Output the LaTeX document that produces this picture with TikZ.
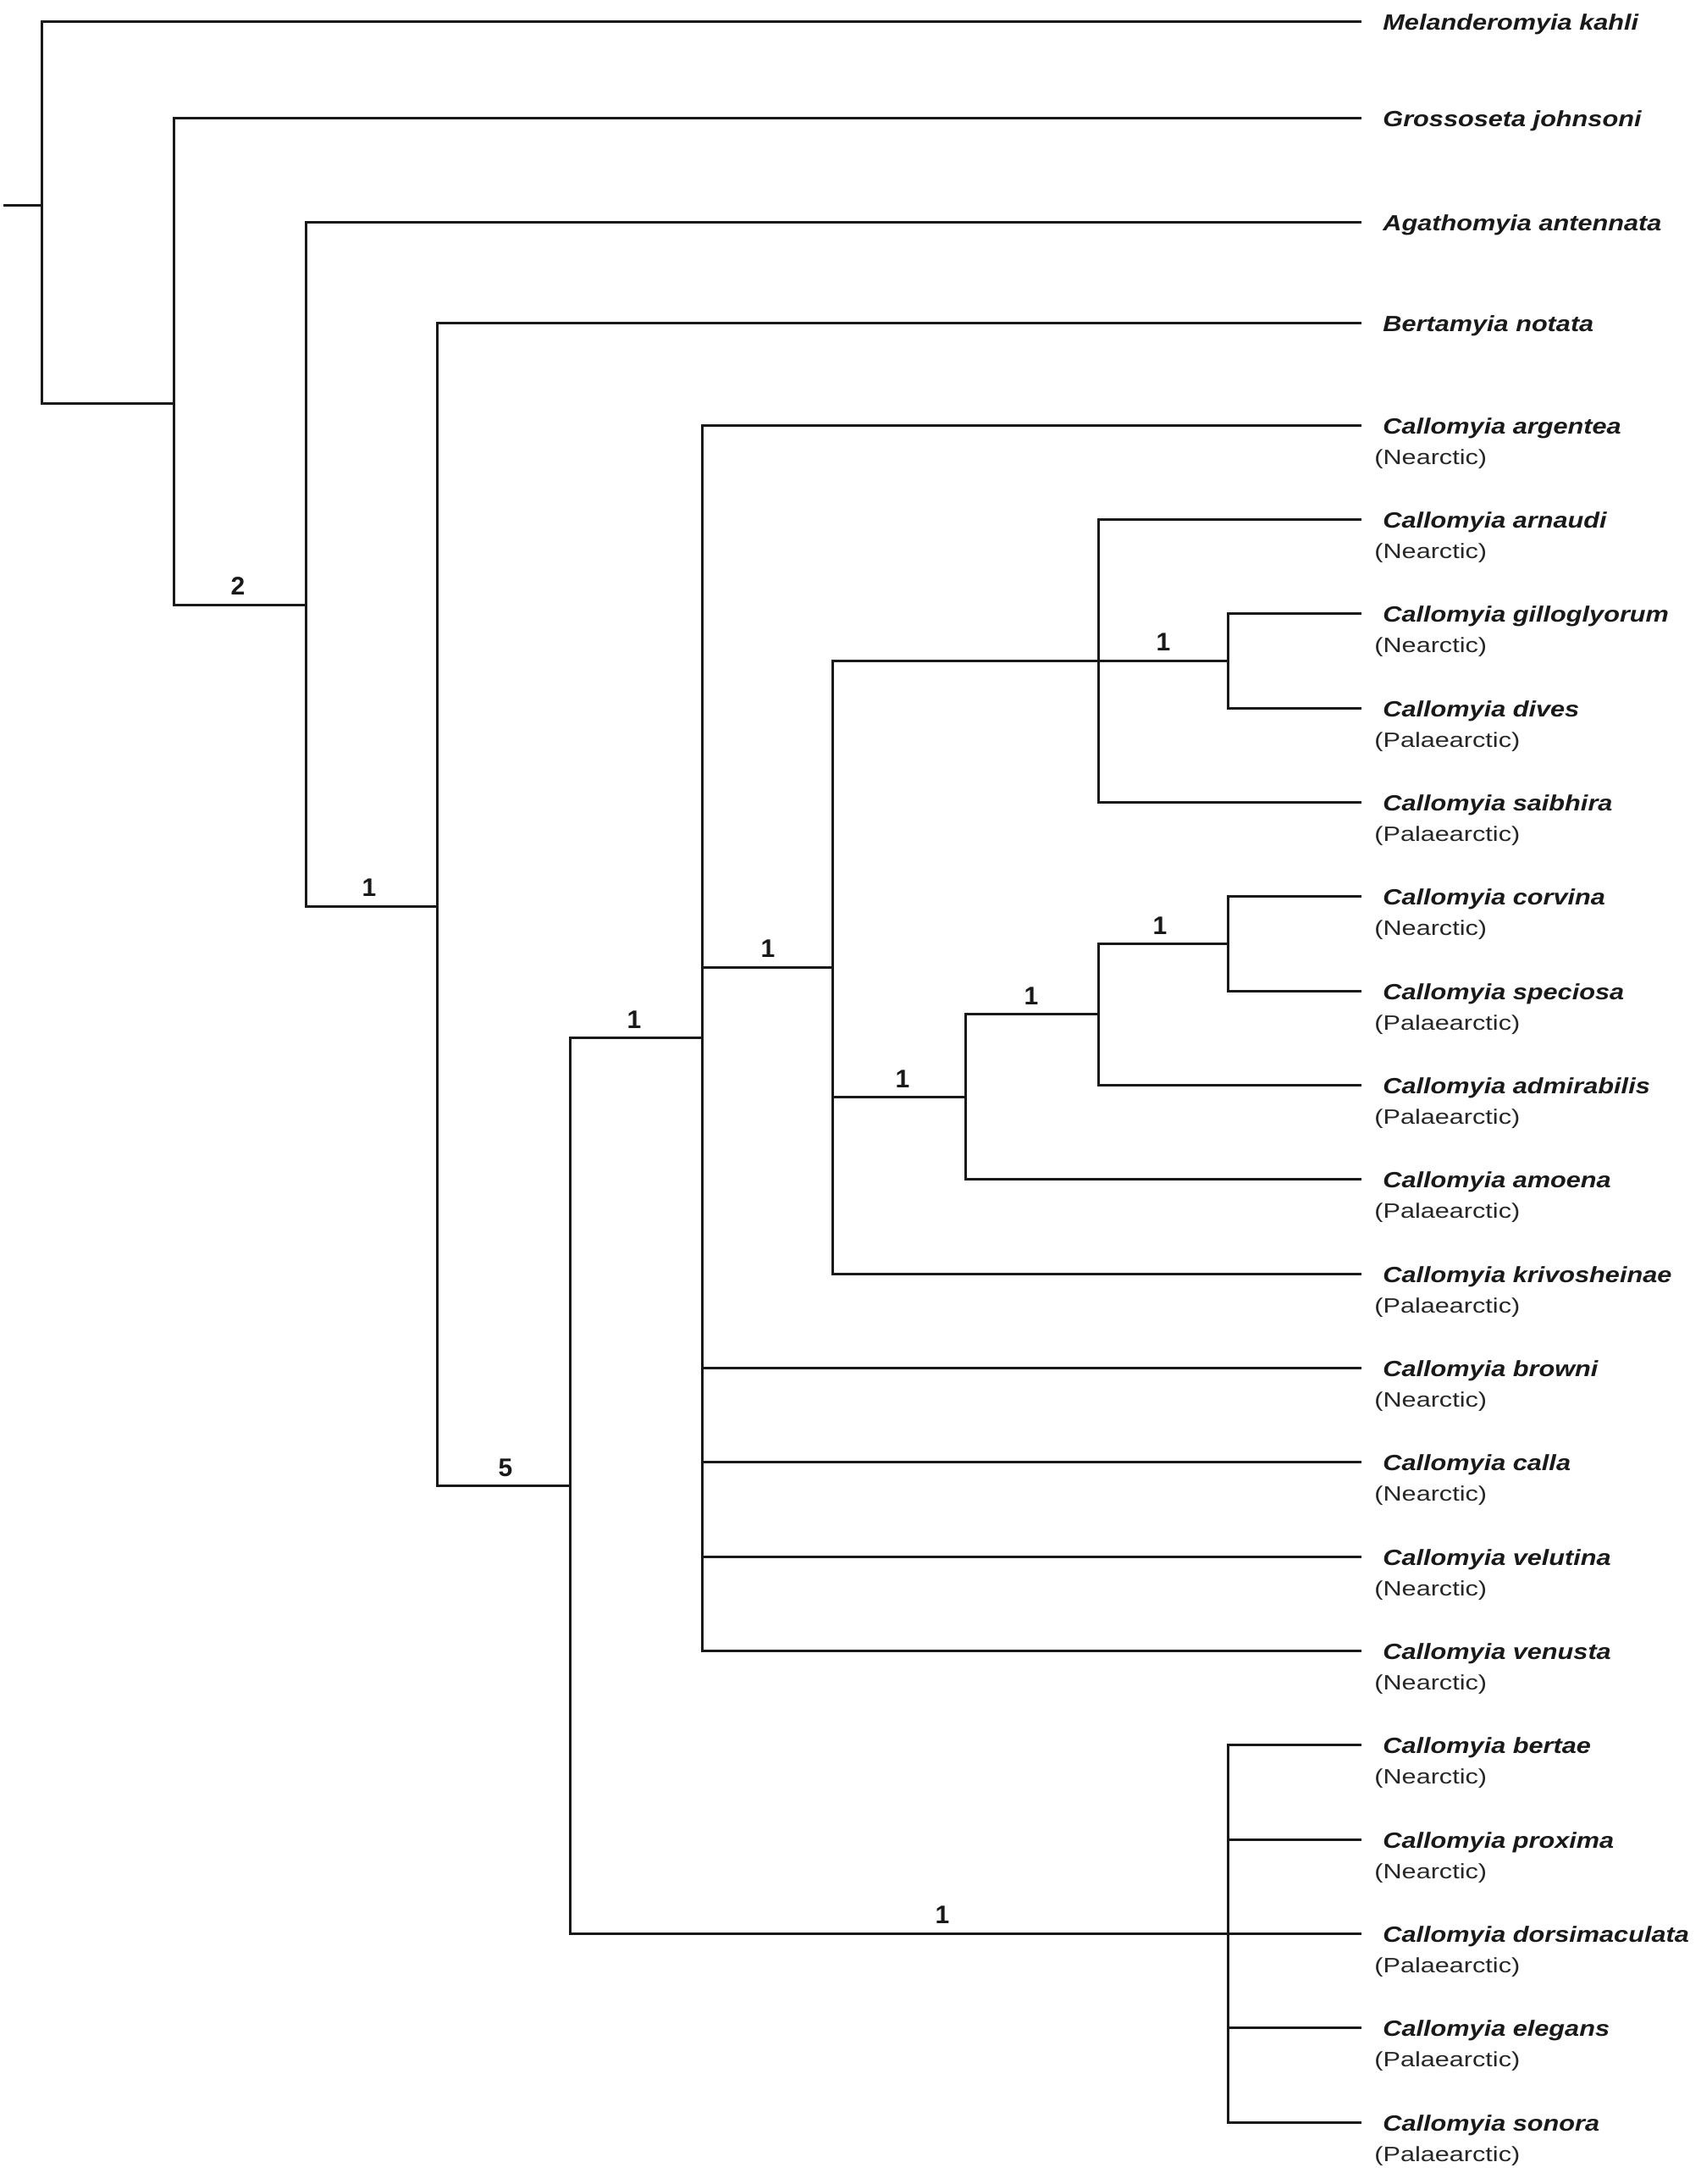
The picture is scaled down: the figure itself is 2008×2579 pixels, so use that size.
\documentclass[tikz,border=0pt]{standalone}
\usepackage{fontspec}
\setmainfont{Liberation Sans}
\newfontfamily\spfont[FakeStretch=1.18]{Liberation Sans}
\newfontfamily\regfont[FakeStretch=1.25]{Liberation Sans}
\begin{document}
\begin{tikzpicture}[x=0.5pt,y=-0.5pt,
  br/.style={line width=1.5pt, line join=miter, line cap=butt, black!90},
  sp/.style={anchor=base west, inner sep=0pt, text=black!90, font=\spfont\fontsize{13}{15}\selectfont\bfseries\itshape},
  rg/.style={anchor=base west, inner sep=0pt, text=black!85, font=\regfont\fontsize{12.25}{14}\selectfont},
  bsv/.style={anchor=base, inner sep=0pt, text=black!90, font=\fontsize{15}{18}\selectfont\bfseries}]
\useasboundingbox (0,0) rectangle (2008,2579);

% ---------- internal nodes ----------
\coordinate (s0) at (4,242.5);
\coordinate (r)  at (49,242.5);
\coordinate (n2) at (205,476);
\coordinate (n3) at (361,714);
\coordinate (n4) at (516,1070);
\coordinate (n5) at (673,1754.5);
\coordinate (n6) at (829,1225.7);
\coordinate (n7) at (983,1142);
\coordinate (nA) at (1297,780.3);
\coordinate (nB) at (1450,780.3);
\coordinate (nC) at (1140,1295.3);
\coordinate (nD) at (1297,1197.8);
\coordinate (nE) at (1450,1114.3);
\coordinate (nF) at (1450,2283.3);

% ---------- tip ends ----------
\coordinate (eMel) at (1608,26);
\coordinate (eGro) at (1608,140);
\coordinate (eAga) at (1608,262.5);
\coordinate (eBer) at (1608,381);
\coordinate (e0)  at (1608,502);
\coordinate (e1)  at (1608,613.3);
\coordinate (e2)  at (1608,724.7);
\coordinate (e3)  at (1608,836);
\coordinate (e4)  at (1608,947.3);
\coordinate (e5)  at (1608,1058.7);
\coordinate (e6)  at (1608,1170);
\coordinate (e7)  at (1608,1281.3);
\coordinate (e8)  at (1608,1392.7);
\coordinate (e9)  at (1608,1504);
\coordinate (e10) at (1608,1615.3);
\coordinate (e11) at (1608,1726.7);
\coordinate (e12) at (1608,1838);
\coordinate (e13) at (1608,1949.3);
\coordinate (e14) at (1608,2060.7);
\coordinate (e15) at (1608,2172);
\coordinate (e16) at (1608,2283.3);
\coordinate (e17) at (1608,2394.7);
\coordinate (e18) at (1608,2506);

% ---------- branches ----------
\draw[br] (s0) -- (r);
\draw[br] (r) |- (eMel);
\draw[br] (r) |- (n2);
\draw[br] (n2) |- (eGro);
\draw[br] (n2) |- (n3);
\draw[br] (n3) |- (eAga);
\draw[br] (n3) |- (n4);
\draw[br] (n4) |- (eBer);
\draw[br] (n4) |- (n5);
\draw[br] (n5) |- (n6);
\draw[br] (n5) |- (nF);
\draw[br] (n6) |- (e0);
\draw[br] (n6) |- (n7);
\draw[br] (n6) |- (e10);
\draw[br] (n6) |- (e11);
\draw[br] (n6) |- (e12);
\draw[br] (n6) |- (e13);
\draw[br] (n7) |- (nA);
\draw[br] (n7) |- (nC);
\draw[br] (n7) |- (e9);
\draw[br] (nA) |- (e1);
\draw[br] (nA) -- (nB);
\draw[br] (nA) |- (e4);
\draw[br] (nB) |- (e2);
\draw[br] (nB) |- (e3);
\draw[br] (nC) |- (nD);
\draw[br] (nC) |- (e8);
\draw[br] (nD) |- (nE);
\draw[br] (nD) |- (e7);
\draw[br] (nE) |- (e5);
\draw[br] (nE) |- (e6);
\draw[br] (nF) |- (e14);
\draw[br] (nF) |- (e15);
\draw[br] (nF) -- (e16);
\draw[br] (nF) |- (e17);
\draw[br] (nF) |- (e18);

% ---------- support values ----------
\node[bsv] (l1)  at (281,702.5)  {2};
\node[bsv] (l2)  at (436,1058.5) {1};
\node[bsv] (l3)  at (597,1743)   {5};
\node[bsv] (l4)  at (749,1214)   {1};
\node[bsv] (l5)  at (907,1130.5) {1};
\node[bsv] (l6)  at (1066,1284)  {1};
\node[bsv] (l7)  at (1218,1186)  {1};
\node[bsv] (l8)  at (1370,1103)  {1};
\node[bsv] (l9)  at (1374,768.5) {1};
\node[bsv] (l10) at (1113,2271)  {1};

% ---------- tip labels ----------
\node[sp] (tMel) at (1633,36)  {Melanderomyia kahli};
\node[sp] (tGro) at (1633,150) {Grossoseta johnsoni};
\node[sp] (tAga) at (1633,272.5) {Agathomyia antennata};
\node[sp] (tBer) at (1633,391) {Bertamyia notata};

\node[sp] (t0)  at (1633,512)    {Callomyia argentea};
\node[rg] (r0)  at (1623,548)    {(Nearctic)};
\node[sp] (t1)  at (1633,623.3)  {Callomyia arnaudi};
\node[rg] (r1)  at (1623,659.3)  {(Nearctic)};
\node[sp] (t2)  at (1633,734.7)  {Callomyia gilloglyorum};
\node[rg] (r2)  at (1623,770.7)  {(Nearctic)};
\node[sp] (t3)  at (1633,846)    {Callomyia dives};
\node[rg] (r3)  at (1623,882)    {(Palaearctic)};
\node[sp] (t4)  at (1633,957.3)  {Callomyia saibhira};
\node[rg] (r4)  at (1623,993.3)  {(Palaearctic)};
\node[sp] (t5)  at (1633,1068.7) {Callomyia corvina};
\node[rg] (r5)  at (1623,1104.7) {(Nearctic)};
\node[sp] (t6)  at (1633,1180)   {Callomyia speciosa};
\node[rg] (r6)  at (1623,1216)   {(Palaearctic)};
\node[sp] (t7)  at (1633,1291.3) {Callomyia admirabilis};
\node[rg] (r7)  at (1623,1327.3) {(Palaearctic)};
\node[sp] (t8)  at (1633,1402.7) {Callomyia amoena};
\node[rg] (r8)  at (1623,1438.7) {(Palaearctic)};
\node[sp] (t9)  at (1633,1514)   {Callomyia krivosheinae};
\node[rg] (r9)  at (1623,1550)   {(Palaearctic)};
\node[sp] (t10) at (1633,1625.3) {Callomyia browni};
\node[rg] (r10) at (1623,1661.3) {(Nearctic)};
\node[sp] (t11) at (1633,1736.7) {Callomyia calla};
\node[rg] (r11) at (1623,1772.7) {(Nearctic)};
\node[sp] (t12) at (1633,1848)   {Callomyia velutina};
\node[rg] (r12) at (1623,1884)   {(Nearctic)};
\node[sp] (t13) at (1633,1959.3) {Callomyia venusta};
\node[rg] (r13) at (1623,1995.3) {(Nearctic)};
\node[sp] (t14) at (1633,2070.7) {Callomyia bertae};
\node[rg] (r14) at (1623,2106.7) {(Nearctic)};
\node[sp] (t15) at (1633,2182)   {Callomyia proxima};
\node[rg] (r15) at (1623,2218)   {(Nearctic)};
\node[sp] (t16) at (1633,2293.3) {Callomyia dorsimaculata};
\node[rg] (r16) at (1623,2329.3) {(Palaearctic)};
\node[sp] (t17) at (1633,2404.7) {Callomyia elegans};
\node[rg] (r17) at (1623,2440.7) {(Palaearctic)};
\node[sp] (t18) at (1633,2516)   {Callomyia sonora};
\node[rg] (r18) at (1623,2552)   {(Palaearctic)};
\end{tikzpicture}
\end{document}
